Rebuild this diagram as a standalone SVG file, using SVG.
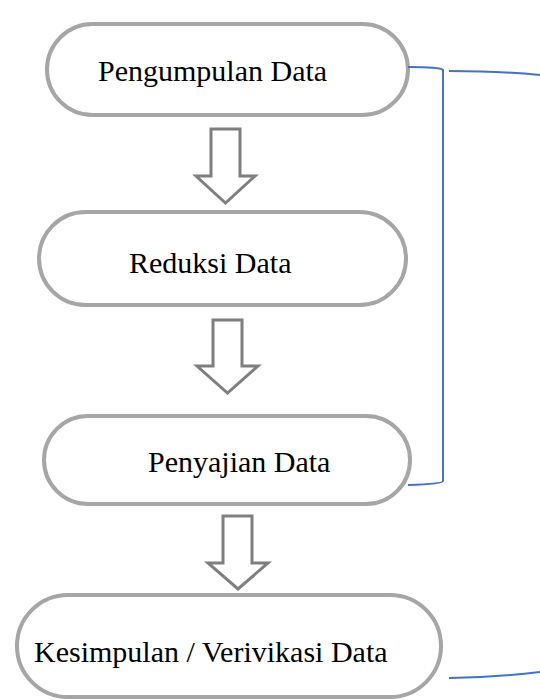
<svg xmlns="http://www.w3.org/2000/svg" width="540" height="700" viewBox="0 0 540 700">
<style>
.node{fill:#ffffff;stroke:#a6a6a6;stroke-width:4}
.lbl{font-family:"Liberation Serif","Times New Roman",serif;font-size:30px;fill:#000}
.arr{fill:#ffffff;stroke:#7f7f7f;stroke-width:3;stroke-linejoin:miter}
.br{fill:none;stroke:#4472c4;stroke-width:2}
</style>
<rect width="540" height="700" fill="#ffffff"/>
<g id="n1"><rect class="node" x="47" y="24" width="361" height="91" rx="45.5"/><text class="lbl" x="98" y="81">Pengumpulan Data</text></g>
<g id="n2"><rect class="node" x="39" y="212" width="367" height="93" rx="46.5"/><text class="lbl" x="129" y="273">Reduksi Data</text></g>
<g id="n3"><rect class="node" x="44" y="416" width="366" height="88" rx="44"/><text class="lbl" x="148" y="472">Penyajian Data</text></g>
<g id="n4"><rect class="node" x="17" y="595" width="424" height="102" rx="51"/><text class="lbl" x="34" y="662">Kesimpulan / Verivikasi Data</text></g>
<g id="connectors">
<polygon class="arr" points="211,129 240,129 240,176 255,176 225.5,203 196,176 211,176"/>
<polygon class="arr" points="213,320 242,320 242,366 258,366 227.5,393 197,366 213,366"/>
<polygon class="arr" points="223,516 252,516 252,563 268,563 238,589 208,563 223,563"/>
<path class="br" d="M408,67 Q440,67 443,70 L443,481 Q443,484 408,485"/>
<path class="br" d="M449,71 Q500,71 540,75"/>
<path class="br" d="M449,678 Q500,677 540,672"/>
</g>
</svg>
